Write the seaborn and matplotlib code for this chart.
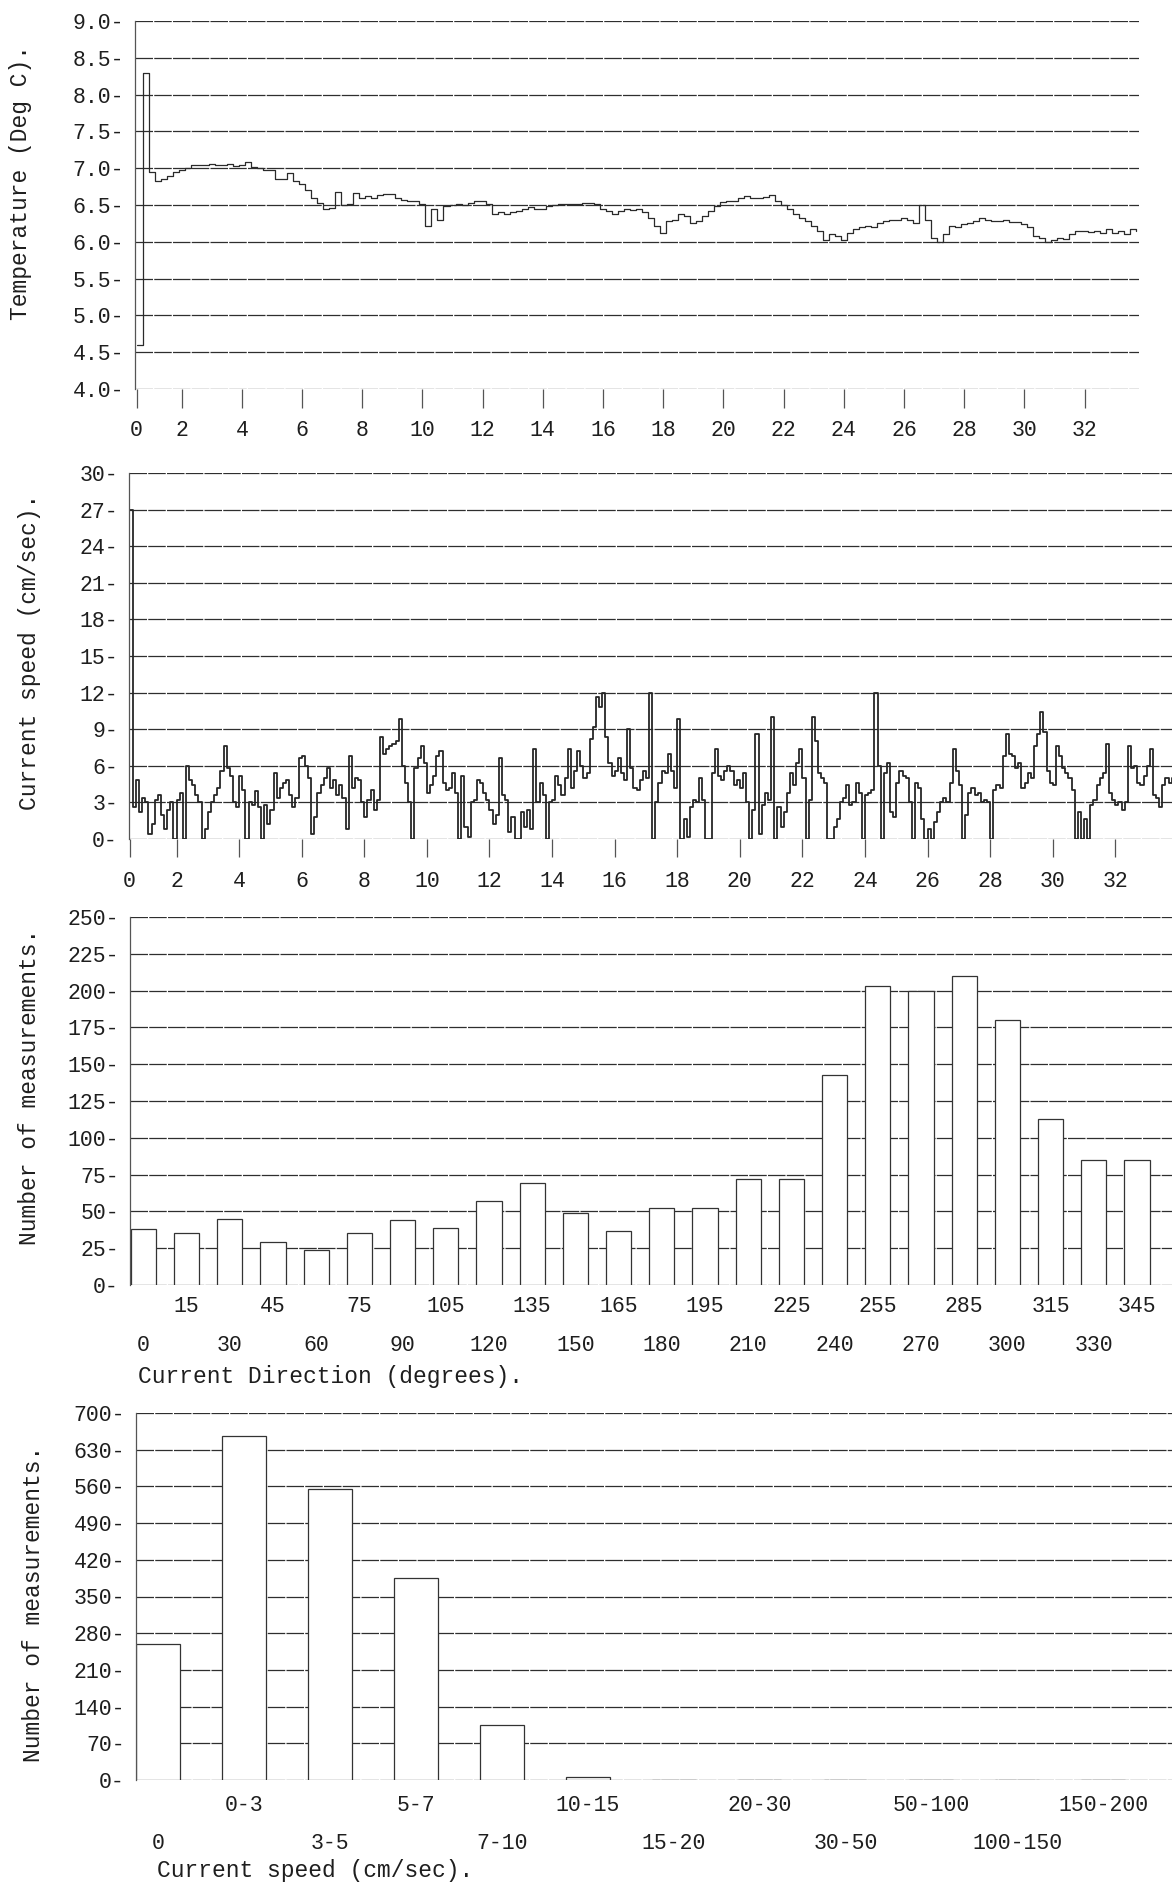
import numpy as np
import pandas as pd
import matplotlib
matplotlib.use("Agg")
import matplotlib.pyplot as plt
import seaborn as sns

# ---------------- data ----------------
temp_start_day = 0.5
temp_step_day = 0.2
temperature = [
    4.6, 8.3, 6.95, 6.82, 6.85, 6.9, 6.95, 6.97, 7.0, 7.04,
    7.05, 7.05, 7.06, 7.05, 7.04, 7.06, 7.03, 7.05, 7.09, 7.02,
    7.0, 6.98, 6.97, 6.86, 6.86, 6.94, 6.82, 6.78, 6.7, 6.6,
    6.53, 6.45, 6.46, 6.68, 6.5, 6.52, 6.66, 6.6, 6.62, 6.6,
    6.64, 6.65, 6.65, 6.6, 6.57, 6.55, 6.55, 6.52, 6.22, 6.45,
    6.3, 6.48, 6.5, 6.52, 6.5, 6.53, 6.55, 6.55, 6.52, 6.38,
    6.4, 6.38, 6.4, 6.42, 6.45, 6.47, 6.45, 6.45, 6.48, 6.5,
    6.52, 6.52, 6.52, 6.52, 6.53, 6.53, 6.52, 6.45, 6.42, 6.38,
    6.42, 6.45, 6.43, 6.44, 6.4, 6.32, 6.22, 6.12, 6.28, 6.3,
    6.38, 6.35, 6.25, 6.28, 6.35, 6.42, 6.48, 6.54, 6.55, 6.56,
    6.6, 6.62, 6.6, 6.6, 6.61, 6.64, 6.56, 6.5, 6.44, 6.38,
    6.33, 6.28, 6.22, 6.15, 6.03, 6.1, 6.08, 6.02, 6.12, 6.18,
    6.2, 6.22, 6.2, 6.25, 6.28, 6.3, 6.3, 6.32, 6.3, 6.25,
    6.5, 6.3, 6.05, 6.0, 6.1, 6.22, 6.2, 6.24, 6.25, 6.28,
    6.32, 6.3, 6.28, 6.28, 6.3, 6.27, 6.27, 6.24, 6.2, 6.08,
    6.05, 6.0, 6.03, 6.05, 6.04, 6.1, 6.14, 6.14, 6.13, 6.15,
    6.12, 6.18, 6.12, 6.14, 6.1, 6.17, 6.14,
]

speed_start_day = 0.5
speed_step_day = 0.1
speed = [
    27.0, 2.6, 4.8, 2.2, 3.4,
    3.0, 0.4, 1.2, 3.2, 3.6, 2.0, 0.8, 2.4, 3.0, 0.0,
    3.2, 3.8, 0.0, 6.0, 4.8, 4.4, 3.6, 3.0, 0.0, 0.8,
    2.2, 3.0, 3.6, 4.2, 5.6, 7.6, 5.8, 5.2, 3.0, 2.6,
    5.2, 4.0, 0.0, 3.0, 2.8, 3.9, 2.6, 0.0, 2.8, 1.2,
    2.4, 5.4, 3.4, 4.2, 4.6, 4.8, 3.6, 2.6, 3.4, 6.6,
    6.8, 6.0, 5.0, 0.4, 1.8, 3.8, 4.4, 5.0, 5.8, 4.2,
    4.8, 3.6, 4.4, 3.4, 0.8, 6.8, 4.2, 5.0, 4.8, 3.0,
    1.8, 3.2, 4.0, 2.4, 3.2, 8.4, 7.0, 7.4, 7.6, 7.8,
    8.0, 9.8, 6.0, 4.6, 3.0, 0.0, 5.8, 6.6, 7.6, 6.2,
    3.8, 4.4, 5.2, 6.8, 7.2, 4.6, 4.0, 4.2, 5.4, 3.8,
    0.0, 5.2, 1.0, 0.2, 3.0, 3.2, 4.8, 4.6, 3.8, 3.2,
    2.4, 1.2, 2.0, 6.6, 3.6, 3.2, 0.6, 1.8, 0.0, 0.0,
    2.2, 1.0, 2.4, 0.8, 7.4, 3.0, 4.6, 3.6, 0.0, 3.0,
    3.2, 5.2, 4.4, 3.6, 5.0, 7.4, 4.2, 5.6, 7.2, 6.0,
    5.0, 5.4, 8.2, 9.2, 11.6, 10.8, 12.0, 8.4, 6.2, 5.2,
    5.6, 6.6, 5.4, 4.8, 9.0, 5.8, 4.2, 4.0, 4.8, 5.6,
    5.0, 12.0, 0.0, 3.0, 4.6, 5.6, 5.4, 7.0, 5.6, 4.2,
    9.8, 0.0, 1.6, 0.2, 2.6, 3.2, 3.0, 5.0, 3.2, 0.0,
    0.0, 5.4, 7.4, 5.2, 4.8, 5.6, 6.0, 5.6, 4.4, 4.8,
    4.2, 5.4, 3.0, 0.0, 2.4, 8.6, 0.4, 2.8, 3.8, 3.2,
    10.0, 0.0, 2.6, 1.0, 2.2, 3.8, 5.4, 4.4, 6.2, 7.4,
    5.0, 0.0, 3.2, 10.0, 8.0, 5.4, 5.0, 4.6, 0.0, 0.0,
    1.0, 1.6, 3.0, 3.4, 4.4, 2.8, 3.0, 4.6, 3.8, 0.0,
    3.6, 3.8, 4.0, 12.0, 6.0, 0.0, 5.4, 6.2, 2.2, 1.8,
    4.6, 5.6, 5.2, 5.0, 3.0, 0.0, 4.6, 4.2, 1.6, 0.0,
    0.8, 0.0, 1.4, 2.2, 3.0, 3.4, 3.0, 4.6, 7.4, 5.6,
    4.4, 0.0, 2.0, 3.8, 4.2, 3.6, 3.8, 3.0, 3.2, 3.0,
    0.0, 4.0, 4.4, 4.2, 6.8, 8.6, 7.0, 6.8, 5.8, 6.2,
    4.2, 4.6, 5.4, 5.0, 7.6, 8.6, 10.4, 8.8, 5.6, 4.6,
    4.4, 7.6, 6.8, 5.8, 5.4, 5.0, 4.0, 0.0, 2.2, 0.0,
    1.6, 0.0, 2.8, 3.2, 4.4, 5.0, 5.4, 7.8, 3.8, 3.2,
    2.8, 3.0, 2.4, 3.0, 7.6, 5.8, 6.0, 4.6, 4.4, 5.2,
    6.0, 7.4, 3.6, 3.4, 2.6, 4.4, 5.0, 4.6, 5.0,
]

day_ticks = [0.5, 2, 4, 6, 8, 10, 12, 14, 16, 18, 20, 22, 24, 26, 28, 30, 32]
day_labels = ["0", "2", "4", "6", "8", "10", "12", "14", "16", "18", "20",
              "22", "24", "26", "28", "30", "32"]

temp_ticks = [4.0, 4.5, 5.0, 5.5, 6.0, 6.5, 7.0, 7.5, 8.0, 8.5, 9.0]
speed_ticks = [0, 3, 6, 9, 12, 15, 18, 21, 24, 27, 30]

direction_bins = ["0", "15", "30", "45", "60", "75", "90", "105", "120", "135",
                  "150", "165", "180", "195", "210", "225", "240", "255", "270",
                  "285", "300", "315", "330", "345"]
direction_counts = [38, 35, 45, 29, 24, 35, 44, 39, 57, 69, 49, 37, 52, 52,
                    72, 72, 143, 203, 200, 210, 180, 113, 85, 85]
direction_count_ticks = [0, 25, 50, 75, 100, 125, 150, 175, 200, 225, 250]

speed_bins = ["0", "0-3", "3-5", "5-7", "7-10", "10-15", "15-20", "20-30",
              "30-50", "50-100", "100-150", "150-200"]
speed_counts = [260, 657, 555, 386, 105, 5, 0, 0, 0, 0, 0, 0]
speed_count_ticks = [0, 70, 140, 210, 280, 350, 420, 490, 560, 630, 700]

# ---------------- style ----------------
sns.set_style("white")
plt.rcParams["font.family"] = ["Liberation Mono", "DejaVu Sans Mono"]
TXT = "#1e1e1e"
GRID = "#2e2e2e"
TICK_FS = 15.5
LAB_FS = 16.5

W, H = 1172, 1892
fig = plt.figure(figsize=(W / 100, H / 100), dpi=100)


def axes_px(left, right, top, bottom):
    return fig.add_axes([left / W, 1 - bottom / H, (right - left) / W, (bottom - top) / H])


def style(ax, yticks, fmt):
    ax.set_yticks(yticks)
    ax.set_yticklabels([fmt(v) + "-" for v in yticks])
    ax.tick_params(axis="y", length=0, pad=8, labelsize=TICK_FS, labelcolor=TXT)
    ax.yaxis.grid(True, color=GRID, linewidth=0.9, linestyle=(0, (14, 1.0)))
    ax.xaxis.grid(False)
    ax.set_axisbelow(True)
    for s in ("top", "right", "bottom"):
        ax.spines[s].set_visible(False)
    ax.spines["left"].set_color("#555555")
    ax.spines["left"].set_linewidth(0.9)
    ax.set_xlabel("")
    ax.set_ylabel("")


# ---- panel 1: temperature ----
ax1 = axes_px(135, 1139, 21, 389)
t_temp = temp_start_day + temp_step_day * np.arange(len(temperature))
df_t = pd.DataFrame({"day": t_temp, "temp": temperature})
sns.lineplot(data=df_t, x="day", y="temp", ax=ax1, color="#2a2a2a",
             linewidth=0.9, drawstyle="steps-post", estimator=None)
ax1.set_xlim(0.45, 33.81)
ax1.set_ylim(4.0, 9.0)
style(ax1, temp_ticks, lambda v: f"{v:.1f}")
ax1.set_xticks(day_ticks)
ax1.set_xticklabels(day_labels)
ax1.tick_params(axis="x", direction="out", length=13.5, width=0.9, color="#555555",
                pad=9, labelsize=TICK_FS, labelcolor=TXT, bottom=True)

# ---- panel 2: current speed ----
ax2 = axes_px(129, 1172, 473, 839)
t_speed = speed_start_day + speed_step_day * np.arange(len(speed))
df_s = pd.DataFrame({"day": t_speed, "speed": speed})
sns.lineplot(data=df_s, x="day", y="speed", ax=ax2, color="#262626",
             linewidth=1.3, drawstyle="steps-post", estimator=None)
ax2.set_xlim(0.48, 33.81)
ax2.set_ylim(0, 30)
style(ax2, speed_ticks, lambda v: f"{v}")
ax2.set_xticks(day_ticks)
ax2.set_xticklabels(day_labels)
ax2.tick_params(axis="x", direction="out", length=13, width=0.9, color="#555555",
                pad=10, labelsize=TICK_FS, labelcolor=TXT, bottom=True)

# ---- panel 3: direction histogram ----
ax3 = axes_px(130, 1172, 917, 1285)
df_d = pd.DataFrame({"dir": direction_bins, "n": direction_counts})
sns.barplot(data=df_d, x="dir", y="n", order=direction_bins, ax=ax3, color="white",
            edgecolor="#333333", linewidth=0.9, width=0.58, saturation=1)
ax3.set_xlim(-0.31, 23.81)
ax3.set_ylim(0, 250)
style(ax3, direction_count_ticks, lambda v: f"{v}")
pos = np.arange(len(direction_bins))
ax3.set_xticks(pos[1::2])
ax3.set_xticklabels(direction_bins[1::2])
ax3.set_xticks(pos[0::2], minor=True)
ax3.set_xticklabels(direction_bins[0::2], minor=True)
ax3.tick_params(axis="x", which="major", length=0, pad=8, labelsize=TICK_FS, labelcolor=TXT)
ax3.tick_params(axis="x", which="minor", length=0, pad=36, labelsize=TICK_FS, labelcolor=TXT)

# ---- panel 4: speed histogram ----
ax4 = axes_px(136, 1172, 1413, 1780)
df_sp = pd.DataFrame({"bin": speed_bins, "n": speed_counts})
sns.barplot(data=df_sp, x="bin", y="n", order=speed_bins, ax=ax4, color="white",
            edgecolor="#333333", linewidth=0.9, width=0.51, saturation=1)
ax4.set_xlim(-0.256, 11.8)
ax4.set_ylim(0, 700)
style(ax4, speed_count_ticks, lambda v: f"{v}")
pos = np.arange(len(speed_bins))
ax4.set_xticks(pos[1::2])
ax4.set_xticklabels(speed_bins[1::2])
ax4.set_xticks(pos[0::2], minor=True)
ax4.set_xticklabels(speed_bins[0::2], minor=True)
ax4.tick_params(axis="x", which="major", length=0, pad=11, labelsize=TICK_FS, labelcolor=TXT)
ax4.tick_params(axis="x", which="minor", length=0, pad=38, labelsize=TICK_FS, labelcolor=TXT)

# ---- axis titles ----
def ftext(x, y, s, **kw):
    fig.text(x / W, 1 - y / H, s, fontsize=LAB_FS, color=TXT, **kw)

ftext(21, 183, "Temperature (Deg C).", rotation=90, ha="center", va="center")
ftext(30, 652, "Current speed (cm/sec).", rotation=90, ha="center", va="center")
ftext(30, 1087, "Number of measurements.", rotation=90, ha="center", va="center")
ftext(34, 1604, "Number of measurements.", rotation=90, ha="center", va="center")
ftext(138, 1377, "Current Direction (degrees).", ha="left", va="center")
ftext(157, 1870, "Current speed (cm/sec).", ha="left", va="center")

fig.savefig("out.png", dpi=100, facecolor="white")
